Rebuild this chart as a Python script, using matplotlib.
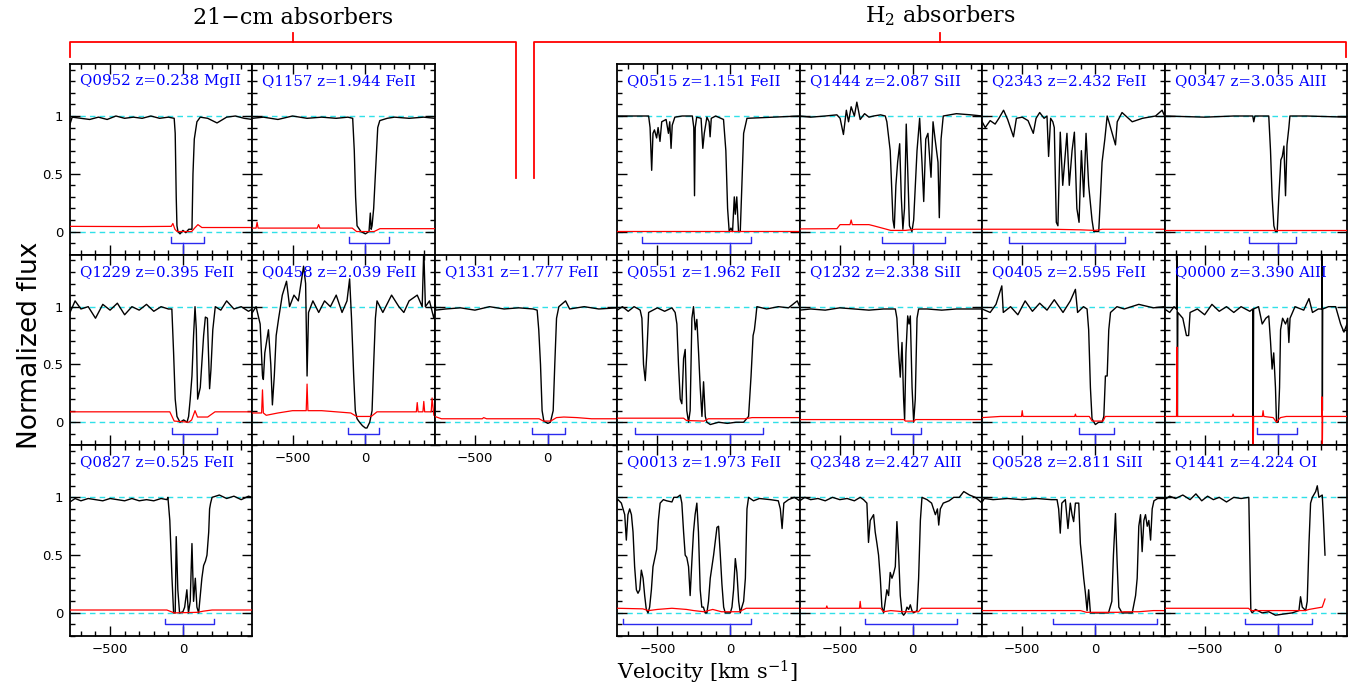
import matplotlib.pyplot as plt
from matplotlib.lines import Line2D
from matplotlib.ticker import MultipleLocator

plt.rcParams['mathtext.fontset'] = 'dejavuserif'

# spectra: (velocity [km/s], normalized flux)
FLUX_Q0952 = [(-775, 0.93), (-760, 0.99), (-700, 0.98), (-640, 0.97), (-580, 0.99), (-520, 0.97), (-460, 1.0),
              (-400, 0.98), (-340, 0.99), (-280, 0.98), (-220, 1.0), (-160, 0.98), (-100, 0.99), (-60, 0.98),
              (-53, 0.85), (-46, 0.3), (-41, 0.05), (-34, 0.0), (-20, -0.02), (0, 0.01), (20, -0.01), (40, 0.02),
              (62, 0.02), (69, 0.5), (78, 0.8), (96, 0.95), (119, 0.99), (170, 0.98), (234, 0.94), (300, 0.99),
              (360, 1.0), (420, 0.98), (477, 0.97)]
ERR_Q0952 = [(-775, 0.045), (-300, 0.043), (-80, 0.045), (-69, 0.07), (-55, 0.02), (-40, 0.0), (60, 0.0),
             (80, 0.03), (103, 0.06), (130, 0.035), (477, 0.035)]

FLUX_Q1157 = [(-775, 0.98), (-700, 0.99), (-600, 0.97), (-500, 1.0), (-400, 0.98), (-300, 0.99), (-200, 0.98),
              (-120, 0.99), (-87, 0.98), (-76, 0.7), (-67, 0.3), (-57, 0.05), (-30, 0.0), (0, -0.02), (25, 0.0),
              (34, 0.16), (40, 0.02), (46, 0.05), (57, 0.2), (73, 0.6), (85, 0.9), (99, 0.96), (150, 0.98),
              (200, 0.99), (300, 0.98), (400, 0.99), (477, 0.98)]
ERR_Q1157 = [(-775, 0.03), (-750, 0.03), (-743, 0.08), (-736, 0.03), (-330, 0.03), (-321, 0.06), (-312, 0.03),
             (-90, 0.03), (-60, 0.0), (60, 0.0), (100, 0.025), (477, 0.025)]

FLUX_Q0515 = [(-775, 1.0), (-560, 1.0), (-550, 0.9), (-539, 0.53), (-530, 0.85), (-520, 0.88), (-505, 0.81),
              (-495, 0.9), (-482, 0.78), (-470, 0.95), (-440, 0.97), (-424, 0.85), (-415, 0.95), (-406, 0.72),
              (-398, 0.92), (-380, 0.99), (-330, 1.0), (-260, 1.0), (-250, 0.9), (-245, 0.31), (-240, 0.9),
              (-230, 0.99), (-200, 0.98), (-188, 0.72), (-178, 0.85), (-160, 0.99), (-145, 0.95), (-138, 0.82),
              (-130, 0.98), (-100, 1.0), (-46, 0.97), (-30, 0.7), (-18, 0.2), (-7, 0.0), (5, 0.03), (16, 0.0),
              (28, 0.3), (35, 0.15), (45, 0.3), (57, 0.0), (69, 0.0), (80, 0.4), (92, 0.85), (115, 0.98),
              (477, 1.0)]
ERR_Q0515 = [(-775, 0.003), (477, 0.003)]

FLUX_Q1444 = [(-775, 1.0), (-700, 0.99), (-600, 1.0), (-520, 1.01), (-498, 0.98), (-475, 0.84), (-455, 1.05),
              (-440, 0.95), (-422, 1.08), (-400, 1.0), (-383, 1.12), (-360, 0.97), (-330, 1.02), (-300, 0.99),
              (-268, 1.0), (-220, 1.01), (-188, 1.0), (-177, 0.95), (-154, 0.7), (-135, 0.1), (-126, 0.03),
              (-115, 0.4), (-103, 0.6), (-89, 0.76), (-78, 0.3), (-67, 0.02), (-56, 0.2), (-44, 0.93),
              (-33, 0.5), (-22, 0.05), (-5, 0.0), (7, 0.1), (30, 0.7), (48, 0.98), (64, 0.6), (76, 0.26),
              (90, 0.8), (105, 0.85), (126, 0.47), (140, 0.95), (154, 0.8), (174, 0.6), (183, 0.12), (195, 0.8),
              (210, 1.0), (300, 1.02), (400, 1.01), (477, 1.0)]
ERR_Q1444 = [(-775, 0.023), (-520, 0.025), (-498, 0.06), (-430, 0.06), (-422, 0.1), (-414, 0.06), (-300, 0.06),
             (-268, 0.05), (-150, 0.01), (-50, 0.01), (20, 0.02), (477, 0.02)]

FLUX_Q2343 = [(-775, 0.95), (-754, 0.9), (-720, 0.96), (-686, 0.93), (-660, 0.98), (-628, 1.05), (-600, 0.97),
              (-560, 0.82), (-540, 0.98), (-500, 0.99), (-460, 0.96), (-424, 0.85), (-405, 0.98), (-380, 1.03),
              (-350, 0.98), (-330, 1.0), (-319, 0.65), (-305, 0.98), (-290, 0.95), (-280, 0.9), (-266, 0.08),
              (-255, 0.05), (-239, 0.86), (-222, 0.4), (-209, 0.6), (-193, 0.85), (-177, 0.4), (-158, 0.7),
              (-142, 0.86), (-125, 0.2), (-110, 0.08), (-94, 0.7), (-78, 0.3), (-62, 0.85), (-44, 0.4),
              (-21, 0.1), (-9, 0.0), (25, 0.0), (37, 0.3), (48, 0.6), (67, 0.8), (83, 1.0), (95, 0.95),
              (140, 0.75), (152, 0.95), (185, 1.03), (255, 0.95), (325, 0.98), (415, 1.0), (460, 1.05),
              (477, 1.0)]
ERR_Q2343 = [(-775, 0.02), (-300, 0.02), (-100, 0.015), (0, 0.01), (50, 0.02), (477, 0.02)]

FLUX_Q0347 = [(-775, 1.0), (-500, 0.99), (-300, 1.0), (-170, 1.0), (-163, 0.95), (-155, 1.0), (-60, 1.0),
              (-48, 0.7), (-37, 0.3), (-25, 0.05), (-14, 0.0), (-2, 0.0), (9, 0.3), (23, 0.62), (33, 0.65),
              (44, 0.74), (55, 0.31), (65, 0.75), (78, 0.9), (85, 1.0), (200, 1.0), (477, 0.99)]
ERR_Q0347 = [(-775, 0.01), (477, 0.01)]

FLUX_Q1229 = [(-775, 0.95), (-740, 1.05), (-700, 0.98), (-650, 1.0), (-600, 0.9), (-550, 1.02), (-500, 0.97),
              (-450, 1.03), (-400, 0.93), (-350, 1.0), (-300, 0.97), (-250, 1.02), (-200, 0.96), (-150, 1.0),
              (-100, 0.98), (-76, 0.98), (-64, 0.6), (-53, 0.2), (-41, 0.05), (-20, 0.0), (5, 0.02), (28, 0.0),
              (39, 0.05), (50, 0.2), (62, 0.4), (73, 0.75), (83, 1.0), (92, 0.8), (101, 0.2), (119, 0.3),
              (142, 0.75), (154, 0.91), (168, 0.9), (183, 0.29), (192, 0.45), (205, 0.8), (222, 1.0),
              (260, 0.97), (300, 1.05), (350, 0.98), (400, 1.0), (450, 0.96), (477, 0.98)]
ERR_Q1229 = [(-775, 0.09), (-90, 0.09), (-60, 0.01), (40, 0.0), (60, 0.02), (83, 0.1), (100, 0.045),
             (170, 0.045), (220, 0.09), (477, 0.09)]

FLUX_Q0458 = [(-775, 0.95), (-750, 1.0), (-722, 0.85), (-706, 0.4), (-700, 0.37), (-690, 0.6), (-665, 0.8),
              (-649, 0.5), (-638, 0.15), (-625, 0.4), (-612, 0.75), (-595, 0.9), (-570, 1.1), (-541, 1.22),
              (-520, 1.0), (-490, 1.1), (-460, 1.05), (-424, 1.35), (-410, 1.2), (-400, 0.4), (-390, 0.95),
              (-360, 1.05), (-320, 0.95), (-280, 1.05), (-240, 1.0), (-200, 1.1), (-160, 0.95), (-126, 1.05),
              (-108, 1.24), (-95, 0.9), (-80, 0.4), (-69, 0.1), (-57, 0.03), (-40, 0.0), (-20, -0.03),
              (0, -0.05), (11, -0.05), (30, 0.0), (46, 0.1), (57, 0.5), (69, 0.9), (80, 1.05), (120, 0.95),
              (180, 1.1), (230, 1.0), (264, 0.95), (300, 1.05), (356, 1.1), (390, 1.0), (401, 1.5),
              (412, 1.0), (440, 1.05), (470, 0.9), (477, 0.95)]
ERR_Q0458 = [(-775, 0.08), (-712, 0.08), (-706, 0.28), (-700, 0.08), (-680, 0.06), (-600, 0.08), (-500, 0.1),
             (-406, 0.1), (-400, 0.33), (-394, 0.1), (-300, 0.1), (-200, 0.09), (-100, 0.08), (-60, 0.05),
             (40, 0.05), (80, 0.09), (350, 0.09), (356, 0.17), (362, 0.09), (395, 0.09), (401, 0.18),
             (407, 0.09), (452, 0.09), (458, 0.21), (470, 0.06), (477, 0.06)]

FLUX_Q1331 = [(-775, 1.1), (-770, 0.97), (-700, 0.98), (-600, 0.99), (-500, 0.97), (-400, 1.0), (-300, 0.98),
              (-200, 0.99), (-100, 0.98), (-73, 0.97), (-62, 0.8), (-50, 0.5), (-39, 0.1), (-27, 0.01),
              (0, -0.01), (18, 0.0), (37, 0.1), (48, 0.5), (60, 0.9), (76, 1.0), (122, 1.05), (150, 0.98),
              (250, 1.0), (350, 0.98), (477, 0.99)]
ERR_Q1331 = [(-775, 0.05), (-730, 0.03), (-450, 0.03), (-440, 0.04), (-420, 0.03), (-60, 0.03), (-30, 0.01),
             (20, 0.01), (60, 0.04), (110, 0.045), (200, 0.04), (300, 0.03), (477, 0.03)]

FLUX_Q0551 = [(-775, 0.97), (-740, 1.0), (-700, 0.96), (-660, 1.0), (-630, 0.98), (-618, 0.97), (-606, 0.9),
              (-595, 0.5), (-583, 0.36), (-572, 0.6), (-560, 0.95), (-500, 0.99), (-450, 0.96), (-400, 0.99),
              (-378, 0.95), (-366, 0.85), (-355, 0.5), (-343, 0.2), (-332, 0.16), (-320, 0.55), (-309, 0.63),
              (-298, 0.1), (-286, 0.0), (-275, 0.1), (-263, 0.9), (-252, 1.0), (-240, 0.8), (-229, 0.89),
              (-217, 0.6), (-206, 0.3), (-194, 0.05), (-183, 0.35), (-171, 0.05), (-160, 0.0), (-137, -0.02),
              (-80, 0.0), (-20, -0.01), (40, 0.0), (92, 0.0), (126, 0.05), (143, 0.4), (157, 0.75),
              (166, 0.8), (175, 0.9), (183, 1.0), (250, 0.98), (330, 1.0), (400, 0.99), (460, 1.05),
              (477, 1.0)]
ERR_Q0551 = [(-775, 0.035), (-320, 0.035), (-300, 0.015), (-180, 0.01), (-150, 0.03), (100, 0.03),
             (150, 0.04), (477, 0.04)]

FLUX_Q1232 = [(-775, 0.97), (-700, 0.98), (-600, 0.97), (-500, 0.99), (-400, 0.98), (-300, 0.97), (-200, 0.98),
              (-119, 0.98), (-108, 0.9), (-96, 0.6), (-85, 0.39), (-73, 0.69), (-62, 0.2), (-55, 0.02),
              (-46, 0.6), (-34, 0.92), (-25, 0.85), (-16, 0.92), (-4, 0.3), (7, 0.0), (18, 0.2), (30, 0.9),
              (41, 0.98), (100, 0.98), (200, 0.97), (300, 0.98), (477, 0.98)]
ERR_Q1232 = [(-775, 0.023), (-60, 0.023), (-50, 0.01), (10, 0.01), (20, 0.023), (477, 0.023)]

FLUX_Q0405 = [(-775, 0.98), (-720, 0.95), (-680, 1.02), (-640, 1.18), (-630, 0.95), (-580, 1.0), (-530, 0.93),
              (-480, 1.05), (-430, 0.96), (-380, 1.03), (-330, 0.97), (-280, 1.06), (-220, 0.95), (-170, 1.05),
              (-135, 1.15), (-120, 0.95), (-80, 1.0), (-55, 0.98), (-44, 0.8), (-32, 0.3), (-21, 0.03),
              (2, -0.02), (25, 0.0), (48, 0.0), (60, 0.05), (71, 0.4), (83, 0.4), (94, 0.8), (106, 0.95),
              (150, 1.0), (200, 0.98), (300, 1.02), (400, 0.99), (477, 1.0)]
ERR_Q0405 = [(-775, 0.04), (-650, 0.05), (-505, 0.05), (-500, 0.1), (-495, 0.05), (-140, 0.05), (-135, 0.07),
             (-130, 0.05), (-40, 0.05), (-20, 0.01), (55, 0.01), (70, 0.05), (477, 0.05)]

FLUX_Q0000 = [(-775, 0.98), (-740, 0.95), (-710, 1.0), (-693, 0.98), (-690, 1.6), (-687, 0.05), (-684, 0.95),
              (-650, 0.9), (-625, 0.75), (-610, 0.75), (-600, 0.95), (-550, 0.98), (-500, 0.93), (-450, 1.02),
              (-400, 0.96), (-350, 1.0), (-300, 0.95), (-250, 1.0), (-190, 0.96), (-170, 0.98), (-167, -0.3),
              (-164, 0.98), (-130, 1.0), (-105, 0.85), (-80, 0.9), (-60, 0.92), (-48, 0.7), (-37, 0.46),
              (-26, 0.6), (-14, 0.3), (-7, 0.0), (5, 0.0), (14, 0.3), (21, 0.8), (35, 0.9), (55, 0.85),
              (70, 0.9), (78, 0.69), (86, 0.9), (120, 1.0), (180, 0.97), (216, 1.07), (240, 0.95), (280, 0.98),
              (304, 0.98), (306, 1.6), (308, 0.1), (310, 0.98), (350, 1.0), (399, 1.0), (433, 0.85),
              (456, 0.78), (477, 0.85)]
ERR_Q0000 = [(-775, 0.05), (-693, 0.05), (-690, 0.65), (-687, 0.05), (-310, 0.05), (-305, 0.07), (-300, 0.05),
             (-170, 0.05), (-167, -0.3), (-164, 0.05), (-104, 0.05), (-99, 0.1), (-94, 0.05), (-30, 0.04),
             (-7, 0.0), (20, 0.04), (60, 0.05), (303, 0.05), (305, 0.22), (307, -0.3), (310, 0.05),
             (477, 0.05)]

FLUX_Q0827 = [(-775, 0.96), (-740, 0.99), (-700, 0.97), (-650, 0.99), (-600, 0.98), (-550, 0.97), (-500, 0.99),
              (-450, 0.98), (-400, 0.97), (-350, 0.99), (-300, 0.97), (-250, 0.98), (-200, 0.97), (-150, 0.99),
              (-110, 0.98), (-103, 1.0), (-90, 0.8), (-75, 0.3), (-64, 0.0), (-53, 0.0), (-46, 0.66),
              (-35, 0.2), (-23, 0.0), (0, 0.01), (12, 0.05), (27, 0.2), (38, 0.0), (50, 0.1), (62, 0.6),
              (73, 0.1), (85, 0.3), (96, 0.05), (108, 0.0), (119, 0.15), (130, 0.3), (142, 0.41), (155, 0.45),
              (165, 0.5), (177, 0.7), (183, 0.9), (190, 0.95), (200, 1.0), (250, 1.02), (300, 0.99),
              (350, 1.01), (400, 0.98), (450, 1.01), (477, 1.0)]
ERR_Q0827 = [(-775, 0.025), (-110, 0.025), (-80, 0.01), (-60, 0.0), (100, 0.005), (140, 0.015), (200, 0.025),
             (477, 0.025)]

FLUX_Q0013 = [(-775, 0.97), (-770, 0.98), (-747, 0.95), (-724, 0.85), (-713, 0.63), (-702, 0.85), (-690, 0.9),
              (-678, 0.85), (-667, 0.7), (-656, 0.4), (-644, 0.2), (-633, 0.17), (-621, 0.2), (-610, 0.37),
              (-598, 0.3), (-587, 0.15), (-576, 0.03), (-564, 0.0), (-553, 0.05), (-541, 0.2), (-530, 0.4),
              (-505, 0.55), (-493, 0.8), (-481, 0.95), (-459, 0.98), (-436, 0.97), (-400, 0.96), (-387, 1.0),
              (-364, 1.0), (-343, 1.02), (-332, 0.95), (-320, 0.7), (-309, 0.5), (-298, 0.48), (-286, 0.4),
              (-275, 0.15), (-263, 0.45), (-252, 0.7), (-241, 0.85), (-229, 0.95), (-218, 0.7), (-206, 0.2),
              (-195, 0.05), (-184, 0.05), (-172, 0.0), (-160, 0.0), (-149, 0.1), (-137, 0.3), (-114, 0.5),
              (-91, 0.74), (-80, 0.75), (-68, 0.5), (-57, 0.25), (-45, 0.05), (-34, 0.0), (-11, 0.0), (1, 0.0),
              (12, 0.05), (23, 0.2), (35, 0.47), (46, 0.35), (58, 0.1), (69, 0.0), (80, 0.05), (92, 0.1),
              (104, 0.3), (115, 0.9), (126, 1.0), (160, 0.97), (200, 0.99), (276, 0.98), (330, 0.97),
              (344, 0.9), (356, 0.73), (368, 0.95), (400, 0.98), (440, 1.0), (477, 0.97)]
ERR_Q0013 = [(-775, 0.04), (-600, 0.035), (-560, 0.02), (-500, 0.03), (-400, 0.04), (-300, 0.03), (-250, 0.02),
             (-180, 0.01), (-120, 0.03), (-60, 0.01), (0, 0.01), (60, 0.01), (110, 0.04), (477, 0.04)]

FLUX_Q2348 = [(-775, 0.97), (-740, 1.0), (-700, 0.98), (-650, 0.99), (-600, 0.97), (-550, 1.0), (-500, 0.98),
              (-450, 0.99), (-400, 0.97), (-360, 1.0), (-337, 0.98), (-314, 0.95), (-303, 0.61), (-291, 0.8),
              (-268, 0.85), (-257, 0.7), (-245, 0.6), (-234, 0.5), (-222, 0.3), (-211, 0.05), (-199, 0.0),
              (-188, 0.1), (-177, 0.2), (-165, 0.15), (-154, 0.35), (-142, 0.3), (-131, 0.34), (-119, 0.4),
              (-108, 0.79), (-96, 0.5), (-85, 0.15), (-73, 0.0), (-62, -0.02), (-50, 0.0), (-39, 0.05),
              (-27, 0.03), (-16, 0.07), (-5, 0.02), (7, 0.0), (30, 0.02), (41, 0.3), (53, 0.8), (64, 1.0),
              (99, 0.98), (130, 0.95), (156, 0.85), (170, 0.9), (179, 0.76), (190, 0.9), (210, 0.95),
              (250, 0.97), (282, 1.0), (320, 1.0), (351, 1.05), (390, 1.02), (430, 1.0), (477, 0.95)]
ERR_Q2348 = [(-775, 0.04), (-594, 0.04), (-589, 0.06), (-584, 0.04), (-365, 0.04), (-360, 0.1), (-355, 0.04),
             (-220, 0.04), (-200, 0.01), (-150, 0.02), (-60, 0.01), (40, 0.01), (60, 0.04), (477, 0.04)]

FLUX_Q0528 = [(-775, 0.96), (-760, 0.99), (-700, 0.98), (-600, 0.99), (-500, 0.98), (-400, 0.99), (-300, 0.98),
              (-261, 0.98), (-250, 0.9), (-239, 0.69), (-228, 0.95), (-204, 0.98), (-186, 0.73), (-170, 0.95),
              (-158, 0.85), (-147, 0.79), (-135, 0.95), (-112, 0.95), (-101, 0.6), (-89, 0.45), (-78, 0.3),
              (-67, 0.18), (-55, 0.02), (-44, 0.2), (-32, 0.0), (0, 0.0), (92, 0.0), (115, 0.1), (126, 0.5),
              (140, 0.86), (151, 0.45), (163, 0.05), (185, 0.0), (255, 0.0), (278, 0.15), (289, 0.3),
              (300, 0.75), (312, 0.85), (323, 0.53), (335, 0.8), (346, 0.85), (358, 0.75), (369, 0.8),
              (381, 0.63), (392, 0.9), (404, 0.97), (430, 0.99), (477, 0.99)]
ERR_Q0528 = [(-775, 0.02), (-100, 0.02), (-60, 0.005), (160, 0.005), (200, 0.01), (300, 0.01), (400, 0.02),
             (477, 0.02)]

FLUX_Q1441 = [(-775, 0.98), (-740, 1.01), (-700, 0.99), (-650, 1.02), (-600, 0.98), (-560, 1.03), (-520, 0.97),
              (-480, 1.01), (-440, 0.98), (-400, 1.0), (-350, 0.96), (-300, 1.0), (-250, 0.99), (-197, 1.0),
              (-190, 0.5), (-183, 0.02), (-174, 0.0), (-151, 0.03), (-106, 0.0), (-60, 0.01), (-14, -0.02),
              (40, -0.01), (101, 0.0), (147, 0.02), (158, 0.14), (170, 0.05), (193, 0.02), (204, 0.1),
              (216, 0.6), (227, 0.95), (239, 1.0), (262, 1.05), (273, 1.1), (284, 1.0), (307, 1.02),
              (314, 0.85), (326, 0.5)]
ERR_Q1441 = [(-775, 0.04), (-200, 0.04), (-180, 0.02), (190, 0.02), (216, 0.03), (307, 0.05), (326, 0.12)]

# velocity span of the absorption (blue bracket), km/s
SPAN_Q0952 = (-80, 142)
SPAN_Q1157 = (-110, 160)
SPAN_Q0515 = (-603, 142)
SPAN_Q1444 = (-211, 220)
SPAN_Q2343 = (-594, 204)
SPAN_Q0347 = (-197, 124)
SPAN_Q1229 = (-76, 234)
SPAN_Q0458 = (-122, 96)
SPAN_Q1331 = (-108, 115)
SPAN_Q0551 = (-653, 223)
SPAN_Q1232 = (-149, 55)
SPAN_Q0405 = (-112, 133)
SPAN_Q0000 = (-140, 135)
SPAN_Q0827 = (-125, 210)
SPAN_Q0013 = (-733, 143)
SPAN_Q2348 = (-330, 305)
SPAN_Q0528 = (-289, 424)
SPAN_Q1441 = (-220, 234)

# (row, col, label, flux, error, span)
PANELS = [
    (0, 0, 'Q0952 z=0.238 MgII', FLUX_Q0952, ERR_Q0952, SPAN_Q0952),
    (0, 1, 'Q1157 z=1.944 FeII', FLUX_Q1157, ERR_Q1157, SPAN_Q1157),
    (0, 3, 'Q0515 z=1.151 FeII', FLUX_Q0515, ERR_Q0515, SPAN_Q0515),
    (0, 4, 'Q1444 z=2.087 SiII', FLUX_Q1444, ERR_Q1444, SPAN_Q1444),
    (0, 5, 'Q2343 z=2.432 FeII', FLUX_Q2343, ERR_Q2343, SPAN_Q2343),
    (0, 6, 'Q0347 z=3.035 AlII', FLUX_Q0347, ERR_Q0347, SPAN_Q0347),
    (1, 0, 'Q1229 z=0.395 FeII', FLUX_Q1229, ERR_Q1229, SPAN_Q1229),
    (1, 1, 'Q0458 z=2.039 FeII', FLUX_Q0458, ERR_Q0458, SPAN_Q0458),
    (1, 2, 'Q1331 z=1.777 FeII', FLUX_Q1331, ERR_Q1331, SPAN_Q1331),
    (1, 3, 'Q0551 z=1.962 FeII', FLUX_Q0551, ERR_Q0551, SPAN_Q0551),
    (1, 4, 'Q1232 z=2.338 SiII', FLUX_Q1232, ERR_Q1232, SPAN_Q1232),
    (1, 5, 'Q0405 z=2.595 FeII', FLUX_Q0405, ERR_Q0405, SPAN_Q0405),
    (1, 6, 'Q0000 z=3.390 AlII', FLUX_Q0000, ERR_Q0000, SPAN_Q0000),
    (2, 0, 'Q0827 z=0.525 FeII', FLUX_Q0827, ERR_Q0827, SPAN_Q0827),
    (2, 3, 'Q0013 z=1.973 FeII', FLUX_Q0013, ERR_Q0013, SPAN_Q0013),
    (2, 4, 'Q2348 z=2.427 AlII', FLUX_Q2348, ERR_Q2348, SPAN_Q2348),
    (2, 5, 'Q0528 z=2.811 SiII', FLUX_Q0528, ERR_Q0528, SPAN_Q0528),
    (2, 6, 'Q1441 z=4.224 OI', FLUX_Q1441, ERR_Q1441, SPAN_Q1441),
]

W, H = 1349, 685
fig = plt.figure(figsize=(W / 100, H / 100), dpi=100)

# panel grid in pixels
X0, PW = 70, 182.43
Y0, PH = 64, 190.67

occupied = {(r, c) for r, c, *_ in PANELS}

for row, col, label, flux, err, span in PANELS:
    left = X0 + col * PW
    top = Y0 + row * PH
    ax = fig.add_axes([left / W, 1 - (top + PH) / H, PW / W, PH / H])
    ax.set_xlim(-775, 477)
    ax.set_ylim(-0.2, 1.45)

    ax.axhline(1, color='#30e0e8', lw=1, ls=(0, (4, 3)), zorder=1)
    ax.axhline(0, color='#30e0e8', lw=1, ls=(0, (4, 3)), zorder=1)

    v, f = zip(*flux)
    ax.plot(v, f, color='black', lw=1.0, zorder=3)
    ev, e = zip(*err)
    ax.plot(ev, e, color='red', lw=0.9, zorder=4)

    b0, b1 = span
    ax.plot([b0, b0, b1, b1], [-0.05, -0.1, -0.1, -0.05], color='#2a2aee', lw=1)
    ax.plot([0, 0], [-0.1, -0.2], color='#2a2aee', lw=1)

    ax.text(0.055, 0.91, label, transform=ax.transAxes, color='blue', va='center', ha='left',
            family='DejaVu Serif', fontsize=10.8)

    ax.set_xticks([-500, 0])
    ax.set_xticklabels(['\u2212500', '0'])
    ax.set_yticks([0, 0.5, 1])
    ax.set_yticklabels(['0', '0.5', '1'])
    ax.xaxis.set_minor_locator(MultipleLocator(100))
    ax.yaxis.set_minor_locator(MultipleLocator(0.1))
    ax.tick_params(which='both', direction='in', top=True, right=True, width=1, labelsize=9.5)
    ax.tick_params(which='major', length=7, pad=5)
    ax.tick_params(which='minor', length=3.5)
    ax.tick_params(labelleft=(col == 0), labelbottom=((row + 1, col) not in occupied))
    for s in ax.spines.values():
        s.set_linewidth(1.3)


def red_line(xs, ys):
    fig.add_artist(Line2D([x / W for x in xs], [1 - y / H for y in ys], color='red', lw=1.3))


# group brackets at the top
red_line([70, 70, 516, 516], [57, 42, 42, 178])
red_line([293, 293], [42, 33])
red_line([534, 534, 1346, 1346], [178, 42, 42, 57])
red_line([940, 940], [42, 33])

fig.text(293 / W, 1 - 18 / H, '21\u2212cm absorbers', ha='center', va='center', family='DejaVu Serif', fontsize=16)
fig.text(940 / W, 1 - 16 / H, 'H$_2$ absorbers', ha='center', va='center', family='DejaVu Serif', fontsize=16)
fig.text(707 / W, 1 - 680 / H, 'Velocity [km s$^{-1}$]', ha='center', va='baseline', family='DejaVu Serif',
         fontsize=15)
fig.text(30 / W, 1 - 345 / H, 'Normalized flux', ha='center', va='center', rotation=90, fontsize=19)

fig.savefig('out.png', dpi=100)
